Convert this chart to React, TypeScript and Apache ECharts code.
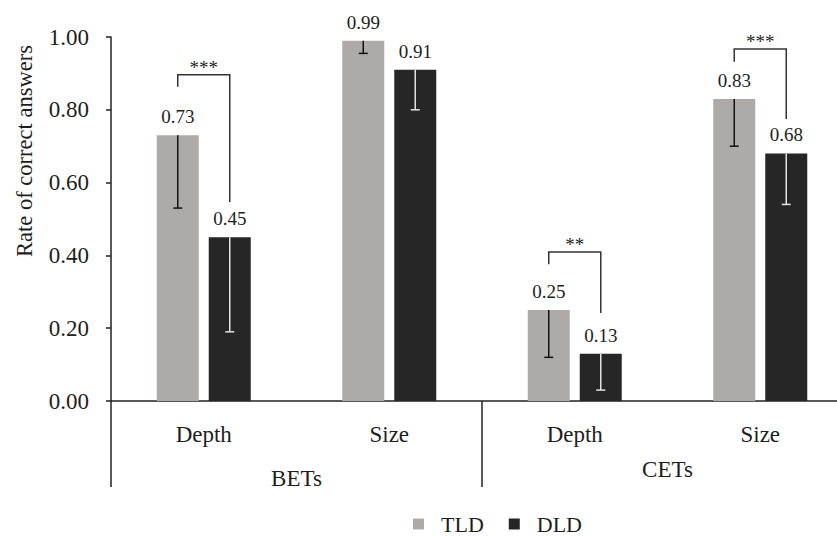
import React, { useEffect, useRef } from 'react';
import * as echarts from 'echarts';

const categories = ['Depth', 'Size', 'Depth', 'Size'];
const groups = ['BETs', 'CETs'];
const seriesNames = ['TLD', 'DLD'];
const tldValues = [0.73, 0.99, 0.25, 0.83];
const dldValues = [0.45, 0.91, 0.13, 0.68];
const tldErrors = [0.2, 0.035, 0.13, 0.13];
const dldErrors = [0.26, 0.11, 0.1, 0.14];
// significance brackets: [categoryIndex, leftLegBottom, top, rightLegBottom]
const brackets = [
  [0, 0.863, 0.896, 0.547],
  [2, 0.376, 0.409, 0.242],
  [3, 0.932, 0.967, 0.775],
];
const bracketStars = ['***', '**', '***'];
const yAxisTitle = 'Rate of correct answers';

const FONT = 'Liberation Serif, serif';
const TEXT = '#1e1e1e';
const TLD_COLOR = '#aeaaaa';
const DLD_COLOR = '#262626';
const BAR_W = 42;
const BAR_GAP = 10;
const OFFSET = (BAR_W + BAR_GAP) / 2;

export default function App() {
  const ref = useRef<HTMLDivElement>(null);
  useEffect(() => {
    if (!ref.current) return;
    const chart = echarts.init(ref.current, undefined, { renderer: 'svg' });

    const errorSeries = (values: number[], errs: number[], dir: number, stroke: string) => ({
      type: 'custom',
      z: 5,
      silent: true,
      data: values.map((v, i) => [i, v, v - errs[i]]),
      renderItem: (params: any, api: any) => {
        const idx = api.value(0);
        const top = api.coord([idx, api.value(1)]);
        const bot = api.coord([idx, api.value(2)]);
        const x = top[0] + dir * OFFSET;
        return {
          type: 'group',
          children: [
            { type: 'line', shape: { x1: x, y1: top[1], x2: x, y2: bot[1] }, style: { stroke, lineWidth: 1.5 } },
            { type: 'line', shape: { x1: x - 4.5, y1: bot[1], x2: x + 4.5, y2: bot[1] }, style: { stroke, lineWidth: 1.5 } },
          ],
        };
      },
    });

    const option: any = {
      animation: false,
      backgroundColor: '#ffffff',
      textStyle: { fontFamily: FONT, color: TEXT },
      grid: { left: 111, right: -16, top: 37, bottom: 136, containLabel: false, outerBoundsMode: 'none' },
      legend: {
        left: 408,
        top: 508,
        icon: 'rect',
        itemWidth: 11,
        itemHeight: 11,
        itemGap: 25,
        data: seriesNames,
        textStyle: {
          fontFamily: FONT,
          fontSize: 22,
          color: TEXT,
          padding: [0, 0, 0, 12],
        },
      },
      xAxis: [
        {
          type: 'category',
          data: categories,
          position: 'bottom',
          axisLine: { show: true, lineStyle: { color: '#222', width: 1.5 } },
          axisTick: { show: false },
          axisLabel: { margin: 22, fontFamily: FONT, fontSize: 23, color: TEXT },
        },
        {
          type: 'category',
          data: [
            { value: groups[0], textStyle: { padding: [9, 0, 0, 0] } },
            { value: groups[1] },
          ],
          position: 'bottom',
          axisLine: { show: false },
          axisTick: { show: true, length: 86, interval: 0, lineStyle: { color: '#222', width: 1.5 } },
          axisLabel: { margin: 57, fontFamily: FONT, fontSize: 23, color: TEXT, interval: 0 },
        },
      ],
      yAxis: {
        type: 'value',
        min: 0,
        max: 1,
        interval: 0.2,
        axisLine: { show: true, lineStyle: { color: '#222', width: 1.5 } },
        axisTick: { show: true, length: 5, lineStyle: { color: '#222', width: 1.5 } },
        splitLine: { show: false },
        axisLabel: {
          margin: 22,
          fontFamily: FONT,
          fontSize: 23,
          color: TEXT,
          formatter: (v: number) => v.toFixed(2),
        },
      },
      graphic: [
        {
          type: 'text',
          x: 24,
          y: 151,
          rotation: Math.PI / 2,
          style: {
            text: yAxisTitle,
            fontFamily: FONT,
            fontSize: 22.5,
            fill: TEXT,
            textAlign: 'center',
            textVerticalAlign: 'middle',
          },
        },
      ],
      series: [
        {
          name: seriesNames[0],
          type: 'bar',
          data: tldValues,
          barWidth: BAR_W,
          barGap: `${(BAR_GAP / BAR_W) * 100}%`,
          itemStyle: { color: TLD_COLOR },
          label: {
            show: true,
            position: 'top',
            distance: 9,
            fontFamily: FONT,
            fontSize: 19,
            color: TEXT,
            formatter: (p: any) => p.value.toFixed(2),
          },
        },
        {
          name: seriesNames[1],
          type: 'bar',
          data: dldValues,
          barWidth: BAR_W,
          barGap: `${(BAR_GAP / BAR_W) * 100}%`,
          itemStyle: { color: DLD_COLOR },
          label: {
            show: true,
            position: 'top',
            distance: 9,
            fontFamily: FONT,
            fontSize: 19,
            color: TEXT,
            formatter: (p: any) => p.value.toFixed(2),
          },
        },
        errorSeries(tldValues, tldErrors, -1, '#111111'),
        errorSeries(dldValues, dldErrors, 1, '#e2e2e2'),
        {
          type: 'custom',
          z: 6,
          silent: true,
          data: brackets,
          renderItem: (params: any, api: any) => {
            const idx = api.value(0);
            const l = api.coord([idx, api.value(1)]);
            const t = api.coord([idx, api.value(2)]);
            const r = api.coord([idx, api.value(3)]);
            const xl = l[0] - OFFSET;
            const xr = l[0] + OFFSET;
            return {
              type: 'group',
              children: [
                {
                  type: 'polyline',
                  shape: { points: [[xl, l[1]], [xl, t[1]], [xr, t[1]], [xr, r[1]]] },
                  style: { stroke: '#333', lineWidth: 1.5, fill: 'none' },
                },
                {
                  type: 'text',
                  x: (xl + xr) / 2,
                  y: t[1] + 2,
                  style: {
                    text: bracketStars[params.dataIndex],
                    fontFamily: FONT,
                    fontSize: 19,
                    fill: TEXT,
                    textAlign: 'center',
                    textVerticalAlign: 'bottom',
                  },
                },
              ],
            };
          },
        },
      ],
    };
    chart.setOption(option);
    return () => chart.dispose();
  }, []);
  return (
    <div
      ref={ref}
      style={{ position: 'absolute', left: 0, top: 0, width: 837, height: 537, background: '#fff' }}
    />
  );
}
